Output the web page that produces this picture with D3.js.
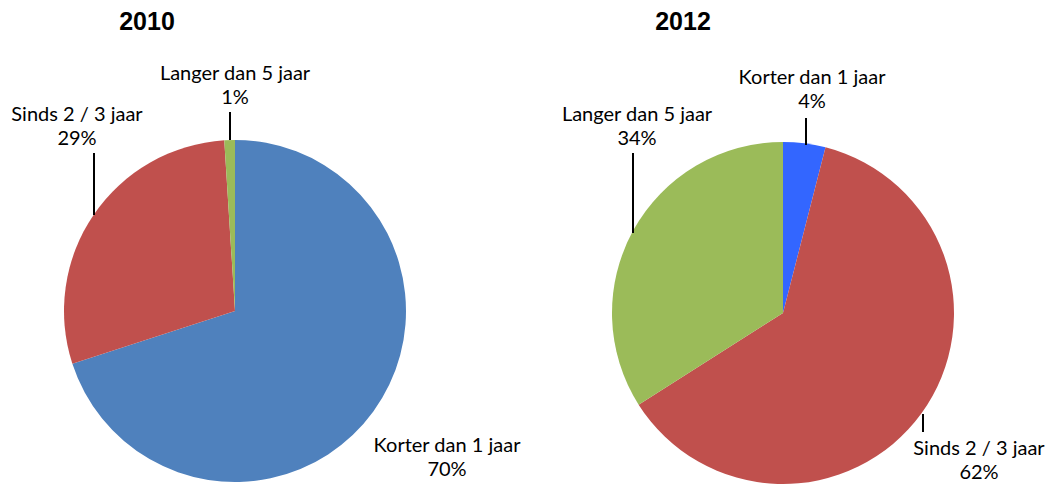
<!DOCTYPE html>
<html><head><meta charset="utf-8">
<script src="https://cdn.jsdelivr.net/npm/d3@7"></script>
<style>body{margin:0;background:#fff}svg{display:block}</style>
</head><body>
<script>
const categories = ["Korter dan 1 jaar", "Sinds 2 / 3 jaar", "Langer dan 5 jaar"];
const years = ["2010", "2012"];
const values2010 = [70, 29, 1];
const values2012 = [4, 62, 34];
const colors2010 = ["#4F81BD", "#C0504D", "#9BBB59"];
const colors2012 = ["#3366FF", "#C0504D", "#9BBB59"];

const W = 1045, H = 484;
const svg = d3.select("body").append("svg").attr("width", W).attr("height", H);
const font = "Lato, 'Open Sans', sans-serif";

const layouts = [
  {cx: 235, cy: 311, r: 171, title: {x: 147, y: 30},
   labels: [
     {x: 447, y: 452, line: null},
     {x: 77, y: 121, line: [94, 153, 94, 215]},
     {x: 235, y: 80, line: [230, 112, 230, 140]}
   ]},
  {cx: 783, cy: 313, r: 171, title: {x: 683, y: 30},
   labels: [
     {x: 979, y: 455, line: null},
     {x: 812, y: 84, line: [806, 118, 806, 145]},
     {x: 637, y: 121, line: [633, 153, 633, 233]}
   ]}
];
// label order per chart follows categories
layouts[1].labels = [
  {x: 812, y: 84, line: [806, 118, 806, 145]},
  {x: 979, y: 455, line: [923, 414, 923, 432]},
  {x: 637, y: 121, line: [633, 153, 633, 233]}
];
const datasets = [
  {vals: values2010, cols: colors2010},
  {vals: values2012, cols: colors2012}
];

datasets.forEach((ds, i) => {
  const L = layouts[i];
  const data = categories.map((c, k) => ({cat: c, v: ds.vals[k], col: ds.cols[k]}));
  const pie = d3.pie().value(d => d.v).sort(null);
  const arc = d3.arc().innerRadius(0).outerRadius(L.r);
  const g = svg.append("g").attr("transform", `translate(${L.cx},${L.cy})`);
  g.selectAll("path").data(pie(data)).join("path")
    .attr("d", arc).attr("fill", d => d.data.col);

  svg.append("text").attr("x", L.title.x).attr("y", L.title.y)
    .attr("text-anchor", "middle").attr("font-family", "Arial, 'Liberation Sans', sans-serif")
    .attr("font-weight", "bold").attr("font-size", 25)
    .text(years[i]);

  data.forEach((d, k) => {
    const lb = L.labels[k];
    const t = svg.append("text").attr("text-anchor", "middle")
      .attr("font-family", font).attr("font-size", 20).attr("fill", "#000");
    t.append("tspan").attr("x", lb.x).attr("y", lb.y).text(d.cat);
    t.append("tspan").attr("x", lb.x).attr("y", lb.y + 24).text(d.v + "%");
    if (lb.line) {
      svg.append("line").attr("x1", lb.line[0]).attr("y1", lb.line[1])
        .attr("x2", lb.line[2]).attr("y2", lb.line[3])
        .attr("stroke", "#000").attr("stroke-width", 2);
    }
  });
});
</script>
</body></html>
